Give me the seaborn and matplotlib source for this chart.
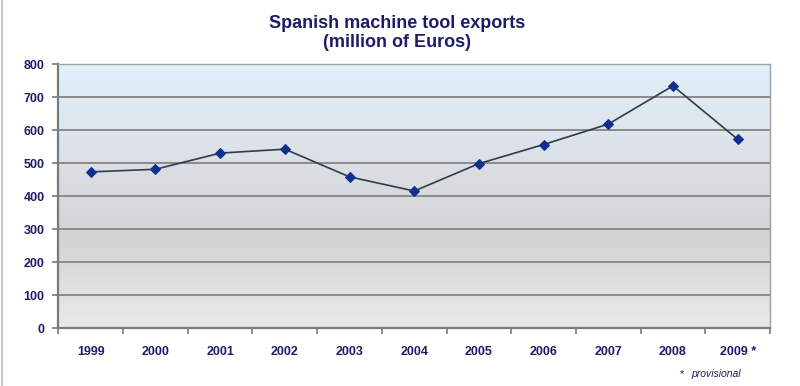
import matplotlib
matplotlib.use("Agg")
import matplotlib.pyplot as plt
import matplotlib.colors as mcolors
import numpy as np
import pandas as pd
import seaborn as sns

years = ['1999', '2000', '2001', '2002', '2003', '2004', '2005', '2006', '2007', '2008', '2009 *']
exports = [474, 482, 531, 543, 459, 416, 499, 557, 619, 735, 573]
y_ticks = [0, 100, 200, 300, 400, 500, 600, 700, 800]

navy = '#1c1c6b'

sns.set_style("white")
plt.rcParams['font.family'] = ['Liberation Sans', 'DejaVu Sans']

df = pd.DataFrame({'pos': np.arange(len(years)), 'value': exports})

fig = plt.figure(figsize=(8, 3.86), dpi=100)
ax = fig.add_axes([0.073, 0.150, 0.8895, 0.683])

# gradient background (light blue at top -> grey -> lighter grey at bottom)
cmap = mcolors.LinearSegmentedColormap.from_list(
    'bg', [(0.0, '#e9e9e9'), (0.35, '#d3d3d3'), (0.7, '#dde3ea'), (1.0, '#e2f0fa')])
grad = np.linspace(0, 1, 256).reshape(-1, 1)
ax.imshow(grad, cmap=cmap, aspect='auto', origin='lower',
          extent=[0, 1, 0, 1], transform=ax.transAxes, zorder=0)

for t in y_ticks[1:]:
    ax.axhline(t, color='#8a8a8a', lw=1.4, zorder=1)

sns.lineplot(data=df, x='pos', y='value', ax=ax, color='#2e3b4c', lw=1.2,
             marker='D', markersize=5.2, markerfacecolor='#10308f',
             markeredgecolor='#10308f', zorder=3)

ax.set_xlim(-0.5, len(years) - 0.5)
ax.set_ylim(0, 800)
ax.set_yticks(y_ticks)
ax.set_yticklabels([str(t) for t in y_ticks], color=navy, fontweight='bold', fontsize=9)
ax.set_xticks(np.arange(len(years)))
ax.set_xticklabels(years, color=navy, fontweight='bold', fontsize=9)
ax.set_xticks(np.arange(-0.5, len(years)), minor=True)
ax.tick_params(axis='x', which='major', length=0, pad=13)
ax.tick_params(axis='x', which='minor', length=4, width=1.2, color='#7a7a7a', direction='out', bottom=True)
ax.tick_params(axis='y', length=4, width=1.2, color='#7a7a7a', direction='out', left=True, pad=6)
ax.set_xlabel('')
ax.set_ylabel('')

for side in ['left', 'bottom']:
    ax.spines[side].set_color('#7a7a7a')
    ax.spines[side].set_linewidth(1.6)
for side in ['top', 'right']:
    ax.spines[side].set_color('#a0a0a0')
    ax.spines[side].set_linewidth(1.0)

fig.text(0.496, 0.962, 'Spanish machine tool exports\n(million of Euros)', ha='center', va='top',
         color=navy, fontweight='bold', fontsize=13, linespacing=1.15)
fig.text(0.85, 0.03, '*', color=navy, fontsize=7.5, ha='left', va='center')
fig.text(0.864, 0.03, 'provisional', color=navy, fontsize=7.5, style='italic', ha='left', va='center')

# thin frame line at left edge
fig.add_artist(plt.Line2D([0.003, 0.003], [0, 1], transform=fig.transFigure, color='#c8c8c8', lw=1.5))

fig.savefig('out.png', dpi=100, facecolor='white')
